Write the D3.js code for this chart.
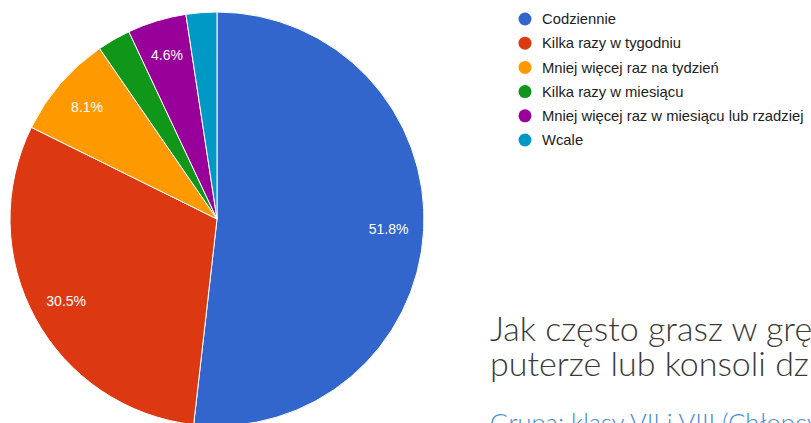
<!DOCTYPE html>
<html>
<head>
<meta charset="utf-8">
<script src="https://cdn.jsdelivr.net/npm/d3@7"></script>
<style>
  html, body { margin: 0; padding: 0; background: #fff; overflow: hidden; }
  svg { display: block; }
</style>
</head>
<body>
<div id="chart"></div>
<script>
// Odpowiedzi – jak często grasz (wykres kołowy)
const categories = [
  "Codziennie",
  "Kilka razy w tygodniu",
  "Mniej więcej raz na tydzień",
  "Kilka razy w miesiącu",
  "Mniej więcej raz w miesiącu lub rzadziej",
  "Wcale"
];
const values = [51.8, 30.5, 8.1, 2.6, 4.6, 2.4];
const labels = ["51.8%", "30.5%", "8.1%", "", "4.6%", ""];
const colors = ["#3366cc", "#dc3912", "#ff9900", "#109618", "#990099", "#0099c6"];

// tytuł jest ucięty prawą krawędzią, tak jak na oryginale
const titleLines = ["Jak często grasz w grę na kom", "puterze lub konsoli dziennie?"];
const subtitle = "Grupa: klasy VII i VIII (Chłopcy)";

const width = 811, height = 423;
const cx = 217, cy = 219, R = 207;

const data = categories.map((c, i) => ({ cat: c, value: values[i], label: labels[i], color: colors[i] }));

const svg = d3.select("#chart").append("svg")
  .attr("width", width)
  .attr("height", height);

/* ---------- pie ---------- */
const pie = d3.pie().sort(null).value(d => d.value);
const arc = d3.arc().innerRadius(0).outerRadius(R);
const labelArc = d3.arc().innerRadius(R * 0.83).outerRadius(R * 0.83);

const g = svg.append("g").attr("transform", `translate(${cx},${cy})`);
const arcs = pie(data);

g.selectAll("path")
  .data(arcs).join("path")
  .attr("d", arc)
  .attr("fill", d => d.data.color)
  .attr("stroke", "#fff")
  .attr("stroke-width", 1);

g.selectAll("text")
  .data(arcs).join("text")
  .attr("transform", d => `translate(${labelArc.centroid(d)})`)
  .attr("text-anchor", "middle")
  .attr("dy", "0.36em")
  .attr("font-family", "Arial, 'Liberation Sans', sans-serif")
  .attr("font-size", 14)
  .attr("fill", "#fff")
  .text(d => d.data.label);

/* ---------- legenda ---------- */
const legend = svg.append("g").attr("transform", "translate(525,19)");
const row = legend.selectAll("g")
  .data(data).join("g")
  .attr("transform", (d, i) => `translate(0,${i * 24.2})`);

row.append("circle")
  .attr("r", 6.5)
  .attr("fill", d => d.color);

row.append("text")
  .attr("x", 17)
  .attr("dy", "0.35em")
  .attr("font-family", "Arial, 'Liberation Sans', sans-serif")
  .attr("font-size", 14.8)
  .attr("fill", "#222")
  .text(d => d.cat);

/* ---------- tytuł ---------- */
svg.append("g").selectAll("text")
  .data(titleLines).join("text")
  .attr("x", 490)
  .attr("y", (d, i) => 341 + i * 35)
  .attr("font-family", "Lato, sans-serif")
  .attr("font-weight", 300)
  .attr("font-size", 34)
  .attr("fill", "#3a3a3a")
  .text(d => d);

svg.append("text")
  .attr("x", 490)
  .attr("y", 432)
  .attr("font-family", "Lato, sans-serif")
  .attr("font-weight", 300)
  .attr("font-size", 25.5)
  .attr("fill", "#4a8ad0")
  .text(subtitle);
</script>
</body>
</html>
